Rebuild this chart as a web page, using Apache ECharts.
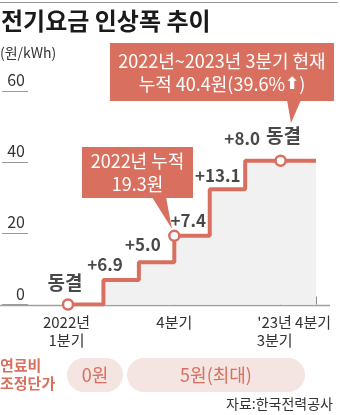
<!DOCTYPE html>
<html>
<head>
<meta charset="utf-8">
<script src="https://cdn.jsdelivr.net/npm/echarts@6/dist/echarts.min.js"></script>
<style>
html,body{margin:0;padding:0;background:#fff;}
#c{width:340px;height:415px;}
</style>
</head>
<body>
<div id="c"></div>
<script>
// ---- data ----
var quarters = ['2022Q1','2022Q2','2022Q3','2022Q4','2023Q1','2023Q2','2023Q3','2023Q4'];
var tickLabels = ['2022년\n1분기','','','4분기','','','\'23년\n3분기','4분기'];
var cumulative = [0, 6.9, 11.9, 19.3, 32.4, 40.4, 40.4, 40.4];
var stepLabels = ['동결','+6.9','+5.0','+7.4','+13.1','+8.0','동결',''];
var markedPoints = [0, 3, 6];
var yTicks = [0, 20, 40, 60];
var fuelLabels = ['0원', '5원(최대)'];

// ---- layout/style (not data) ----
var RED = '#d9705f';
var FONT = '"Noto Sans CJK KR", "Noto Sans", sans-serif';
var labelOffsets = [[-3,-22],[1.5,-15],[4,-18],[14,-15.5],[8,-14],[-3,-22],[3,-25],[0,0]];

var chart = echarts.init(document.getElementById('c'), null, {renderer:'canvas'});

var lineData = cumulative.map(function(v, i){
  return {
    value: v,
    symbol: markedPoints.indexOf(i) >= 0 ? 'circle' : 'none'
  };
});

var labelData = cumulative.map(function(v, i){
  var isBig = stepLabels[i] === '동결';
  return {
    value: [i, v],
    label: {
      show: stepLabels[i] !== '',
      formatter: stepLabels[i],
      position: [labelOffsets[i][0] + 1, labelOffsets[i][1] + 1],
      align: 'center',
      verticalAlign: 'middle',
      fontSize: isBig ? 19 : 17,
      fontWeight: 'bold',
      color: '#1a1a1a',
      fontFamily: FONT
    }
  };
});

var option = {
  animation: false,
  backgroundColor: '#fff',
  textStyle: {fontFamily: FONT},
  grid: {left: 68, right: 16.5, top: 91, bottom: 110.5},
  xAxis: {
    type: 'category',
    data: quarters,
    boundaryGap: false,
    axisLine: {show: false},
    axisTick: {
      show: true, inside: true, length: 8, alignWithLabel: true,
      interval: function(idx){ return idx === 3 || idx === 6 || idx === 7; },
      lineStyle: {color: '#8a8a8a', width: 1}
    },
    axisLabel: {
      interval: 0,
      margin: 9,
      formatter: function(v, i){
        var t = tickLabels[i];
        if (!t) return '';
        var tag = i === 0 ? 'l0' : (i === 6 ? 'l6' : (i === 7 ? 'l7' : 'n'));
        return t.split('\n').map(function(s){ return '{' + tag + '|' + s + '}'; }).join('\n');
      },
      rich: {
        n: {fontSize: 15, color: '#333', lineHeight: 18, fontFamily: FONT},
        l0: {fontSize: 15, color: '#333', lineHeight: 18, fontFamily: FONT, padding: [0,3,0,0]},
        l6: {fontSize: 15, color: '#333', lineHeight: 18, fontFamily: FONT, padding: [0,12,0,0]},
        l7: {fontSize: 15, color: '#333', lineHeight: 18, fontFamily: FONT, padding: [0,6,0,0]}
      }
    },
    splitLine: {show: false}
  },
  yAxis: {
    type: 'value',
    min: yTicks[0],
    max: yTicks[yTicks.length - 1],
    interval: yTicks[1] - yTicks[0],
    offset: 40,
    axisLine: {show: false},
    axisTick: {show: true, length: 26, lineStyle: {color: '#9a9a9a', width: 1}},
    axisLabel: {
      align: 'right', verticalAlign: 'bottom', margin: 3,
      padding: [0,0,3,0],
      fontSize: 16, color: '#333', fontFamily: FONT
    },
    splitLine: {show: false}
  },
  series: [{
    type: 'line',
    step: 'end',
    data: lineData,
    symbolSize: 10,
    z: 5,
    lineStyle: {color: RED, width: 4},
    itemStyle: {color: '#fff', borderColor: RED, borderWidth: 2.5},
    areaStyle: {color: '#f1f1f1', opacity: 1},
    emphasis: {disabled: true}
  }, {
    type: 'scatter',
    data: labelData,
    symbolSize: 2,
    itemStyle: {color: 'rgba(0,0,0,0)'},
    z: 6,
    emphasis: {disabled: true},
    labelLayout: {hideOverlap: false}
  }]
};

chart.setOption(option);

var p0 = chart.convertToPixel({gridIndex: 0}, [0, 0]);
var baseY = Math.round(p0[1]) + 0.5;

chart.setOption({
  graphic: [
    // top rule
    {type: 'line', shape: {x1: 0, y1: 2.5, x2: 338, y2: 2.5}, style: {stroke: '#9a9a9a', lineWidth: 1}, z: 1},
    // title
    {type: 'text', left: 1, top: 9, style: {text: '전기요금 인상폭 추이', fontSize: 24, fontWeight: 'bold', fill: '#1a1a1a', fontFamily: FONT}},
    {type: 'text', left: 0, top: 46, style: {text: '(원/kWh)', fontSize: 14, fill: '#333', fontFamily: FONT}},
    // baseline
    {type: 'line', shape: {x1: 0, y1: baseY, x2: 330, y2: baseY}, style: {stroke: '#a0a0a0', lineWidth: 1.5}, z: 2},
    // callout 1
    {type: 'polygon', shape: {points: [[287,100],[301,100],[291,123]]}, style: {fill: RED}, z: 10},
    {type: 'rect', shape: {x: 110, y: 43, width: 224, height: 58}, style: {fill: RED}, z: 10},
    {type: 'text', x: 222, y: 73, z: 11, style: {
      text: '2022년~2023년 3분기 현재\n누적 40.4원(39.6%{b|⬆})',
      rich: {b: {fontSize: 17, fontWeight: 'bold', fill: '#fff', fontFamily: '"DejaVu Sans", sans-serif'}},
      align: 'center', verticalAlign: 'middle', fontSize: 18, lineHeight: 23, fill: '#fff', fontFamily: FONT}},
    // callout 2
    {type: 'polygon', shape: {points: [[152,197],[166,197],[172,229]]}, style: {fill: RED}, z: 10},
    {type: 'rect', shape: {x: 82, y: 147, width: 111, height: 51}, style: {fill: RED}, z: 10},
    {type: 'text', x: 137.5, y: 172.5, z: 11, style: {
      text: '2022년 누적\n19.3원',
      align: 'center', verticalAlign: 'middle', fontSize: 18, lineHeight: 23, fill: '#fff', fontFamily: FONT}},
    // fuel cost row
    {type: 'text', left: 0, top: 356, style: {text: '연료비\n조정단가', fontSize: 15, lineHeight: 18, fontWeight: 'bold', fill: RED, fontFamily: FONT}},
    {type: 'rect', shape: {x: 67, y: 358, width: 56, height: 34, r: 17}, style: {fill: '#f4e4e2'}},
    {type: 'text', x: 95, y: 375, style: {text: fuelLabels[0], align: 'center', verticalAlign: 'middle', fontSize: 18, fill: RED, fontFamily: FONT}},
    {type: 'rect', shape: {x: 127, y: 358, width: 178, height: 34, r: 17}, style: {fill: '#f4e4e2'}},
    {type: 'text', x: 216, y: 375, style: {text: fuelLabels[1], align: 'center', verticalAlign: 'middle', fontSize: 18, fill: RED, fontFamily: FONT}},
    // source
    {type: 'text', right: 7, top: 397, style: {text: '자료:한국전력공사', fontSize: 14, fill: '#333', fontFamily: FONT}}
  ]
});
</script>
</body>
</html>
